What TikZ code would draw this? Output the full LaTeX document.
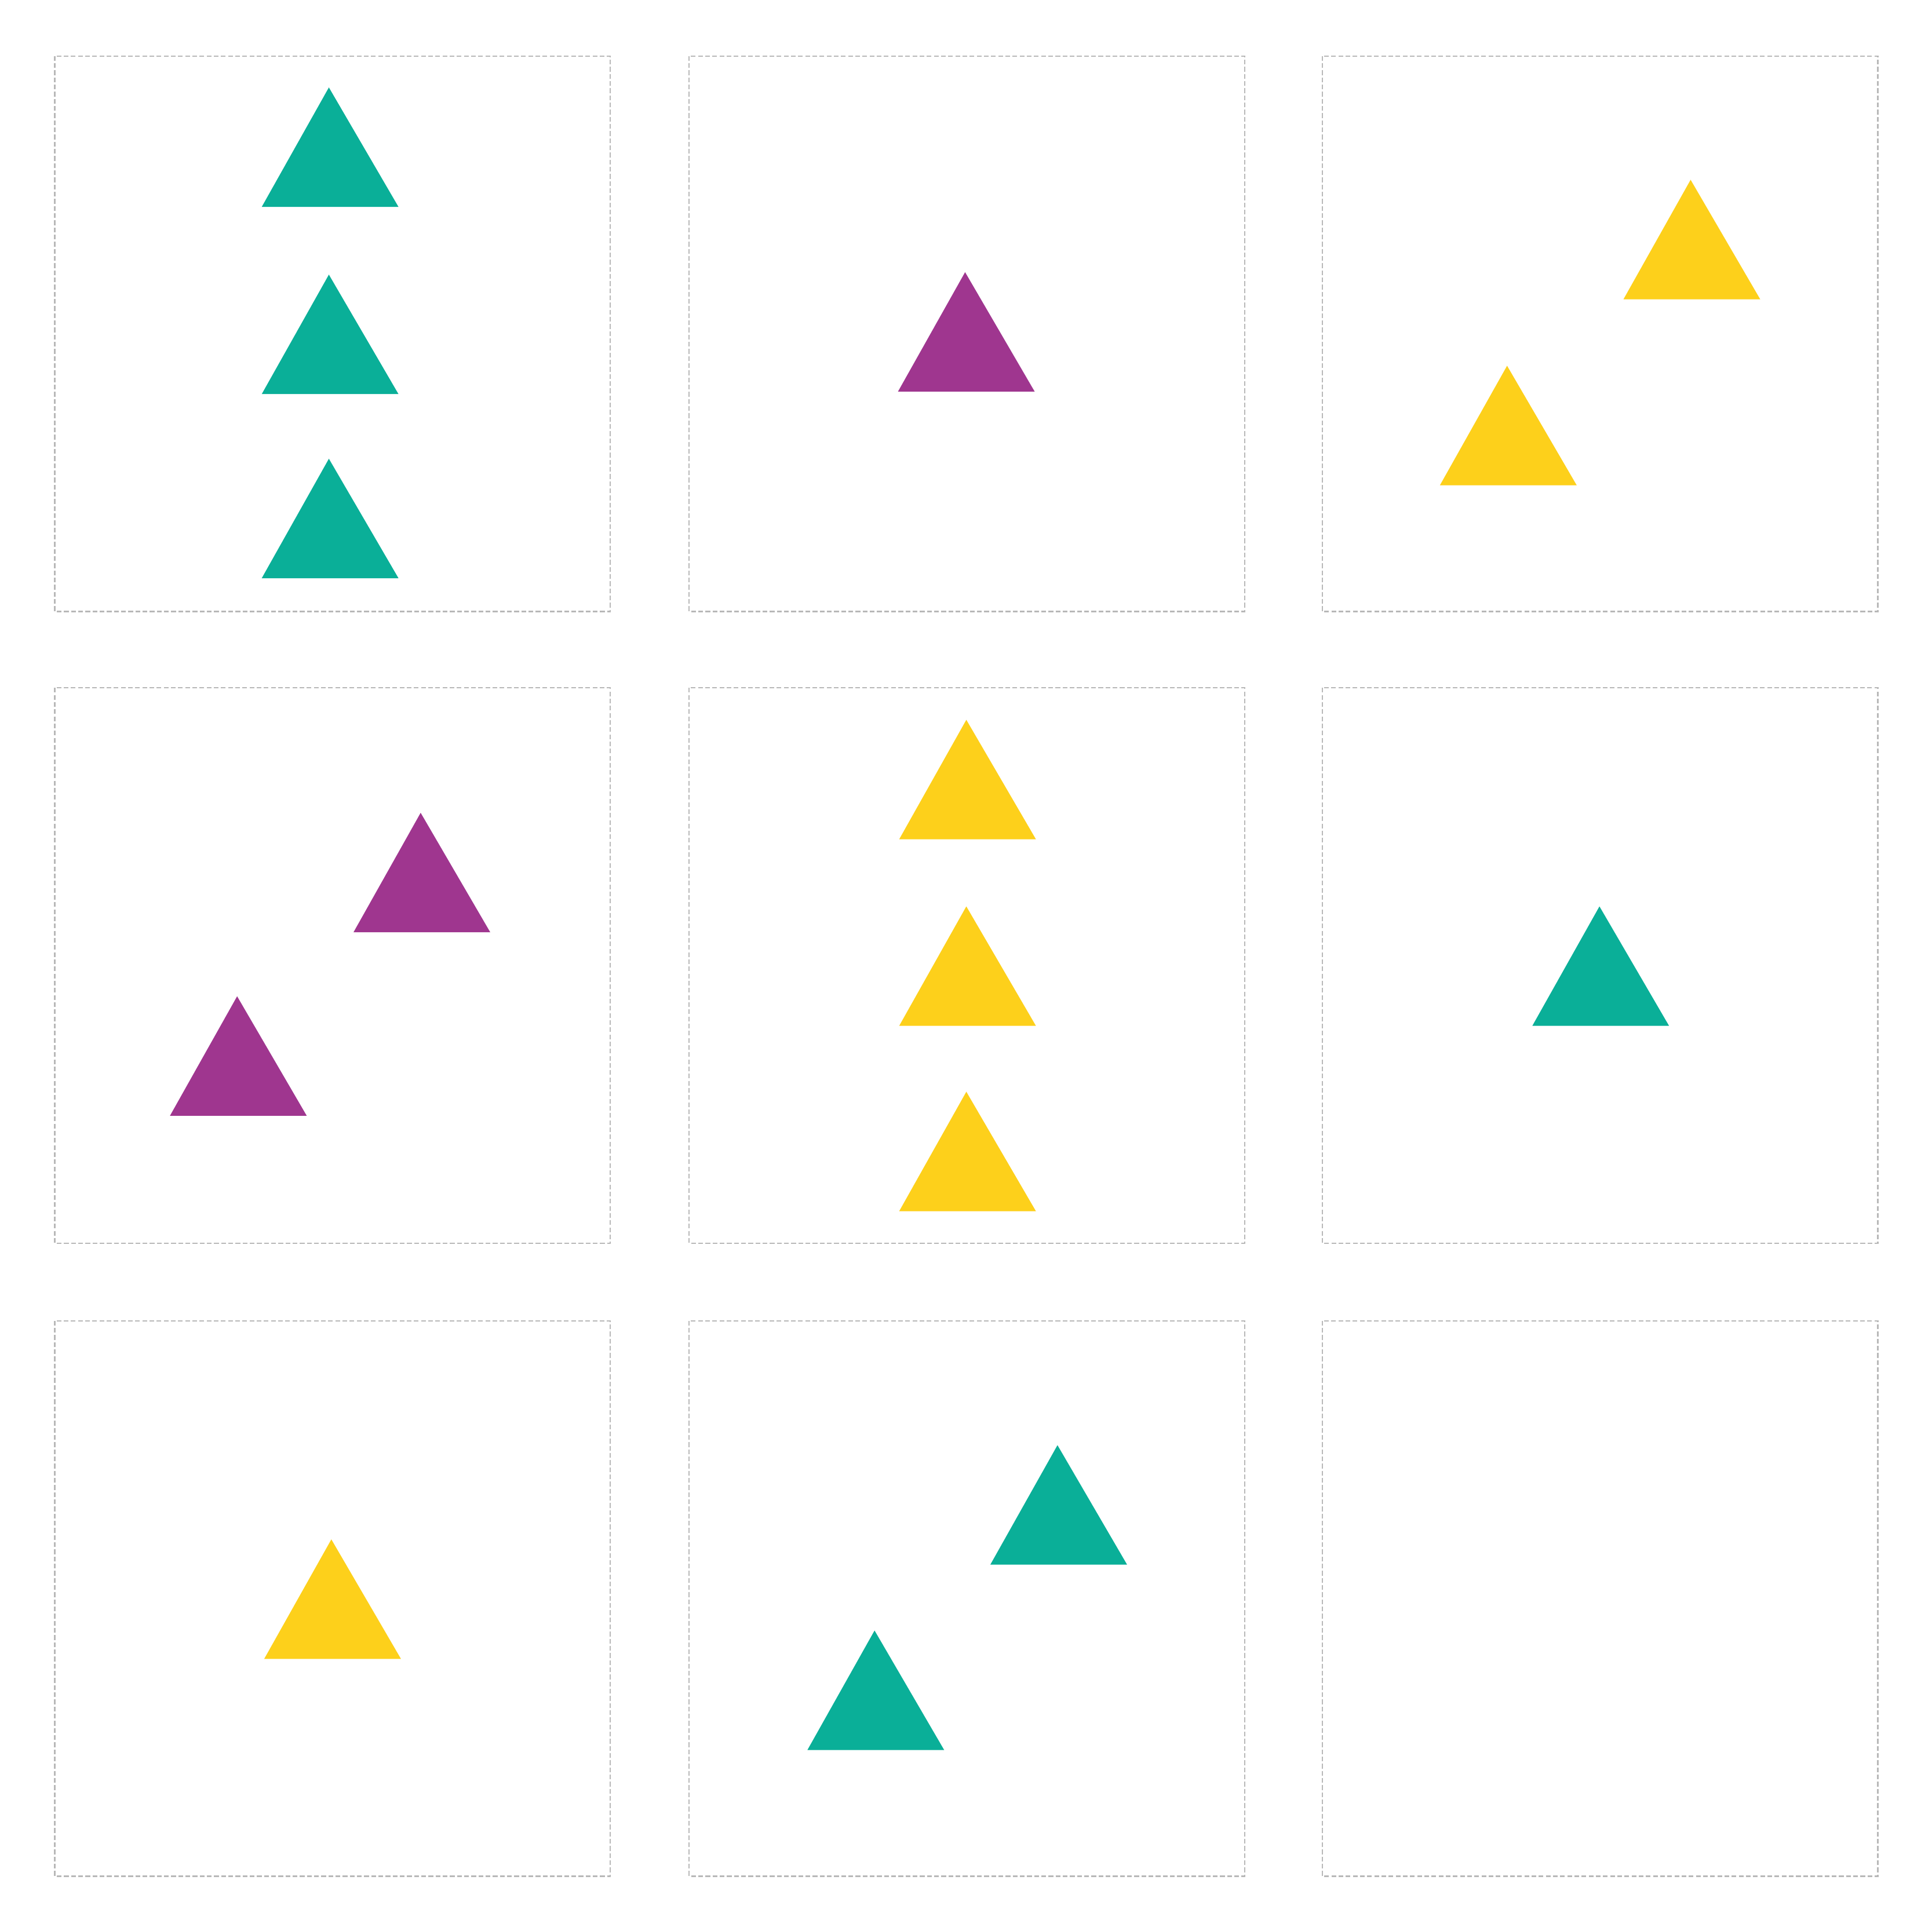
\documentclass[tikz,border=0pt]{standalone}
\usepackage{tikz}
\usepackage{xcolor}
\definecolor{cTeal}{HTML}{0AAF98}
\definecolor{cPlum}{HTML}{9F368F}
\definecolor{cSun}{HTML}{FDD01B}
\definecolor{cFrame}{HTML}{B8B8B8}

\begin{document}
\begin{tikzpicture}[
  x=0.01cm, y=-0.01cm,
  frame/.style={draw=cFrame, line width=0.3pt, dash pattern=on 1.1pt off 0.55pt},
  tri/.pic={\fill (-55.5,0) -- (-1,-97) -- (55.5,0) -- cycle;}]

\useasboundingbox (0,0) rectangle (1568,1568);

% ---- panels ----
\foreach \px in {44.5,559.5,1073.5}
  \foreach \py in {45.5,558.5,1072.5}
    \draw[frame] (\px,\py) rectangle ++(451,451);

% ---- row 1 ----
\pic[fill=cTeal] at (268,168) {tri};
\pic[fill=cTeal] at (268,320) {tri};
\pic[fill=cTeal] at (268,469.5) {tri};
\pic[fill=cPlum] at (784.5,318) {tri};
\pic[fill=cSun] at (1373.5,243) {tri};
\pic[fill=cSun] at (1224.5,394) {tri};

% ---- row 2 ----
\pic[fill=cPlum] at (342.5,757) {tri};
\pic[fill=cPlum] at (193.5,906) {tri};
\pic[fill=cSun] at (785.5,681.5) {tri};
\pic[fill=cSun] at (785.5,833) {tri};
\pic[fill=cSun] at (785.5,983.5) {tri};
\pic[fill=cTeal] at (1299.5,833) {tri};

% ---- row 3 ----
\pic[fill=cSun] at (270,1347) {tri};
\pic[fill=cTeal] at (859.5,1270.5) {tri};
\pic[fill=cTeal] at (711,1421) {tri};
\end{tikzpicture}
\end{document}
